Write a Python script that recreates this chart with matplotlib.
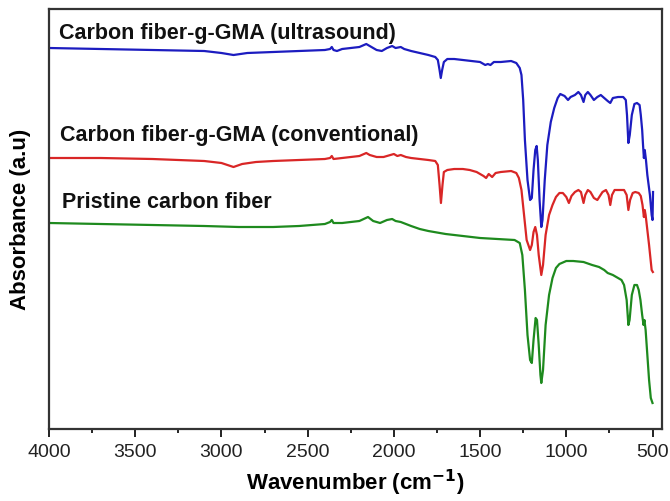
import matplotlib
matplotlib.use("Agg")
import matplotlib.pyplot as plt
from matplotlib.ticker import MultipleLocator

plt.rcParams['font.family'] = ['Liberation Sans', 'DejaVu Sans']

# ---- data (wavenumber cm^-1, absorbance a.u.) ----
wn_blue = [4000, 3700, 3400, 3100, 3000, 2930, 2850, 2700, 2550, 2400, 2370, 2360, 2350, 2330,
           2300, 2250, 2200, 2160, 2140, 2100, 2070, 2040, 2010, 1990, 1960, 1940, 1900, 1850,
           1800, 1760, 1745, 1735, 1728, 1720, 1710, 1690, 1650, 1600, 1550, 1500, 1470, 1455,
           1440, 1420, 1380, 1320, 1290, 1270, 1260, 1250, 1240, 1225, 1210, 1200, 1190, 1180,
           1172, 1165, 1155, 1145, 1138, 1125, 1110, 1090, 1070, 1050, 1035, 1010, 990, 975,
           950, 930, 915, 900, 890, 875, 860, 840, 820, 800, 780, 760, 745, 730, 700, 670, 655,
           648, 640, 632, 620, 605, 590, 575, 568, 560, 555, 550, 545, 538, 530, 515, 505, 500, 497]
ab_blue = [382, 381, 380, 379, 377, 375, 377, 378, 379, 380, 381, 383, 380, 379,
           381, 382, 383, 386, 384, 380, 379, 382, 384, 382, 383, 381, 379, 377,
           375, 373, 370, 360, 352, 360, 368, 371, 371, 370, 369, 368, 365, 366,
           365, 368, 368, 369, 367, 362, 355, 330, 290, 250, 230, 232, 260, 280,
           284, 270, 230, 203, 210, 250, 285, 308, 322, 332, 336, 334, 330, 333,
           335, 338, 335, 328, 335, 338, 335, 330, 333, 335, 332, 329, 327, 332, 333, 333, 330,
           315, 287, 295, 315, 326, 327, 325, 315, 300, 285, 272, 280, 270, 255, 235, 215, 210, 238]

wn_red = [4000, 3700, 3400, 3100, 3000, 2930, 2880, 2800, 2700, 2550, 2400, 2370, 2360, 2350,
          2300, 2200, 2160, 2140, 2100, 2060, 2020, 2000, 1980, 1960, 1930, 1900, 1850, 1800,
          1760, 1745, 1735, 1727, 1718, 1710, 1690, 1650, 1600, 1560, 1520, 1480, 1465, 1450,
          1430, 1410, 1380, 1320, 1290, 1275, 1260, 1245, 1230, 1210, 1200, 1190, 1180, 1170,
          1160, 1145, 1135, 1120, 1100, 1080, 1060, 1040, 1020, 1000, 985, 970, 950, 930, 915,
          900, 890, 875, 860, 840, 820, 805, 790, 770, 755, 745, 735, 720, 690, 665, 650, 640,
          630, 615, 600, 580, 568, 558, 550, 545, 540, 530, 520, 505, 498]
ab_red = [272, 272, 271, 269, 267, 263, 266, 268, 269, 270, 271, 272, 274, 271,
          272, 274, 277, 275, 273, 273, 275, 276, 274, 275, 273, 272, 271, 270,
          269, 265, 245, 227, 245, 258, 260, 261, 261, 260, 258, 254, 252, 256,
          253, 257, 258, 259, 257, 252, 240, 215, 190, 180, 185, 198, 203, 195,
          175, 155, 165, 195, 215, 225, 233, 237, 237, 233, 227, 234, 238, 240, 238,
          227, 235, 240, 238, 232, 230, 234, 238, 240, 235, 225, 235, 240, 240, 240, 235, 220,
          230, 237, 238, 237, 234, 225, 213, 220, 215, 200, 185, 160, 158]

wn_green = [4000, 3700, 3400, 3100, 2900, 2700, 2550, 2400, 2370, 2360, 2350, 2300, 2200, 2150,
            2120, 2080, 2040, 2010, 1990, 1960, 1900, 1850, 1800, 1700, 1600, 1500, 1400, 1300,
            1270, 1255, 1240, 1225, 1210, 1200, 1190, 1178, 1170, 1160, 1150, 1145, 1135, 1120,
            1100, 1080, 1060, 1040, 1000, 960, 900, 850, 810, 780, 760, 730, 700, 680, 665, 650,
            640, 633, 620, 605, 590, 580, 570, 560, 552, 547, 540, 530, 520, 510, 500]
ab_green = [207, 206, 205, 204, 203, 203, 204, 206, 208, 210, 207, 207, 209, 213,
            209, 207, 210, 211, 209, 208, 204, 201, 199, 196, 194, 192, 191, 190,
            187, 175, 140, 95, 70, 67, 90, 112, 110, 85, 55, 47, 60, 105,
            135, 152, 162, 166, 169, 169, 168, 165, 163, 160, 157, 155, 152, 150, 145, 130,
            105, 110, 135, 145, 145, 140, 130, 115, 105, 110, 100, 75, 50, 32, 27]

labels = ["Carbon fiber-g-GMA (ultrasound)",
          "Carbon fiber-g-GMA (conventional)",
          "Pristine carbon fiber"]
xticks = [4000, 3500, 3000, 2500, 2000, 1500, 1000, 500]

W, H = 670, 501
fig = plt.figure(figsize=(W / 100, H / 100), dpi=100)
ax = fig.add_axes([49 / W, (H - 429) / H, (662 - 49) / W, (429 - 9) / H])

ax.plot(wn_blue, ab_blue, color='#1c1cc0', lw=1.6)
ax.plot(wn_red, ab_red, color='#d92626', lw=1.6)
ax.plot(wn_green, ab_green, color='#1e8a1e', lw=1.6)

ax.set_xlim(4000, 445)
ax.set_ylim(1, 421)
ax.set_xticks(xticks)
ax.xaxis.set_minor_locator(MultipleLocator(250))
ax.set_yticks([])
ax.tick_params(axis='x', which='major', direction='out', length=6, width=1.4,
               labelsize=14, colors='#222222', pad=5)
ax.tick_params(axis='x', which='minor', direction='out', length=3, width=1.2)
for s in ax.spines.values():
    s.set_linewidth(1.6)
    s.set_color('#333333')

ax.set_xlabel("Wavenumber (cm$^{\\mathbf{-1}}$)", fontsize=16, fontweight='bold', labelpad=5)
ax.set_ylabel("Absorbance (a.u)", fontsize=16, fontweight='bold')
ax.yaxis.set_label_coords(-0.03, 0.5)

ys = [33, 135, 202]
xs = [59, 60, 62]
for lab, xp, yp in zip(labels, xs, ys):
    fig.text(xp / W, 1 - yp / H, lab, fontsize=15.5, fontweight='bold', va='center', ha='left',
             color='#111111')

fig.savefig("out.png", dpi=100)
